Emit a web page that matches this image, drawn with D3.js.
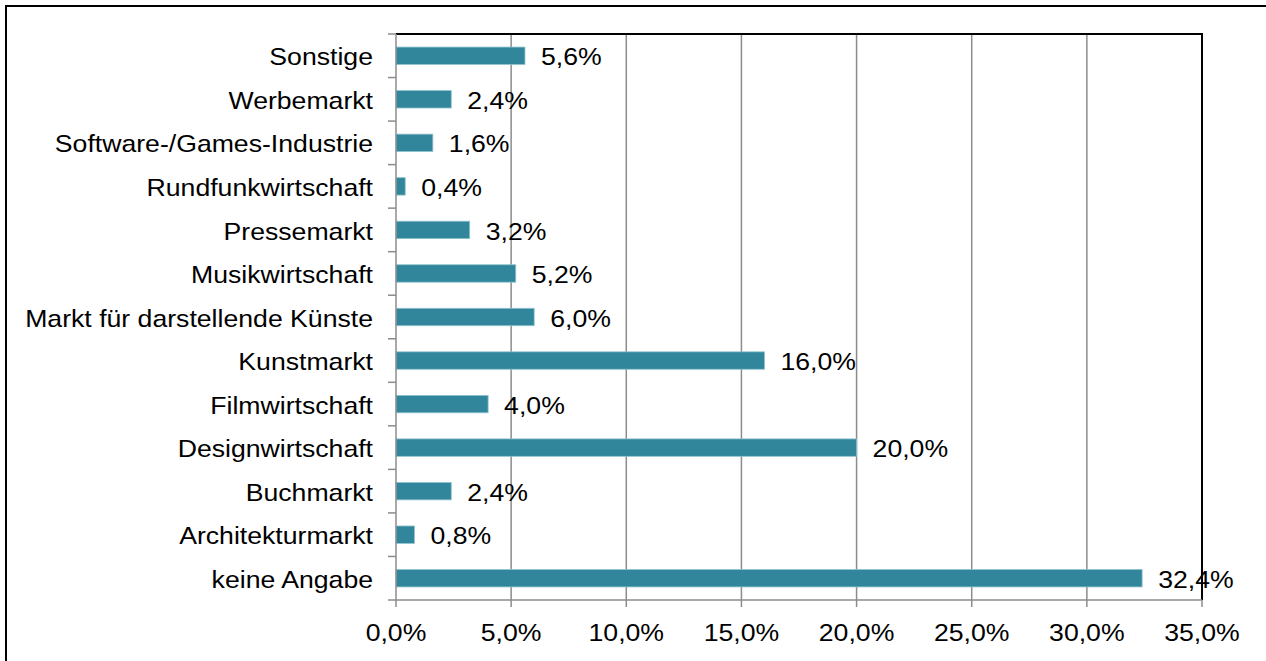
<!DOCTYPE html>
<html>
<head>
<meta charset="utf-8">
<script src="https://cdn.jsdelivr.net/npm/d3@7"></script>
<style>
  body { margin: 0; background: #fff; }
  text { font-family: "Liberation Sans", Arial, sans-serif; }
</style>
</head>
<body>
<svg width="1266" height="661"></svg>
<script>
// categories from top to bottom as shown
const categories = [
  "Sonstige",
  "Werbemarkt",
  "Software-/Games-Industrie",
  "Rundfunkwirtschaft",
  "Pressemarkt",
  "Musikwirtschaft",
  "Markt für darstellende Künste",
  "Kunstmarkt",
  "Filmwirtschaft",
  "Designwirtschaft",
  "Buchmarkt",
  "Architekturmarkt",
  "keine Angabe"
];
const values = [5.6, 2.4, 1.6, 0.4, 3.2, 5.2, 6.0, 16.0, 4.0, 20.0, 2.4, 0.8, 32.4];
const xTicks = [0, 5, 10, 15, 20, 25, 30, 35];

const width = 1266, height = 661;
const margin = { top: 34, right: 64, bottom: 61, left: 396 };
const fmt = v => d3.format(".1f")(v).replace(".", ",") + "%";
const fs = 24, sx = 1.11; // text in the picture is a bit wider than plain Arial

const svg = d3.select("svg");

// outer frame
svg.append("rect")
  .attr("x", 6).attr("y", 6)
  .attr("width", width + 10).attr("height", height + 10)
  .attr("fill", "none").attr("stroke", "#000").attr("stroke-width", 2);

const x = d3.scaleLinear()
  .domain([0, 35])
  .range([margin.left, width - margin.right]);

const y = d3.scaleBand()
  .domain(categories)
  .range([margin.top, height - margin.bottom])
  .paddingInner(0.6)
  .paddingOuter(0.3);

// gridlines
svg.append("g")
  .selectAll("line")
  .data(xTicks.slice(1, -1))
  .join("line")
  .attr("x1", d => x(d)).attr("x2", d => x(d))
  .attr("y1", margin.top).attr("y2", height - margin.bottom)
  .attr("stroke", "#8c8c8c").attr("stroke-width", 1.5);

// plot border top/right
svg.append("path")
  .attr("d", `M${x(0)},${margin.top}H${x(35)}V${height - margin.bottom}`)
  .attr("fill", "none").attr("stroke", "#000").attr("stroke-width", 2);

// bars
svg.append("g")
  .selectAll("rect")
  .data(categories)
  .join("rect")
  .attr("x", x(0))
  .attr("y", d => y(d))
  .attr("width", (d, i) => x(values[i]) - x(0))
  .attr("height", y.bandwidth())
  .attr("fill", "#31869b")
  .attr("stroke", "#8fc3cf")
  .attr("stroke-width", 0.8);

// value labels
svg.append("g")
  .selectAll("text")
  .data(categories)
  .join("text")
  .attr("transform", (d, i) => `translate(${x(values[i]) + 16},${y(d) + y.bandwidth() / 2}) scale(${sx},1)`)
  .attr("dy", "0.4em")
  .attr("font-size", fs)
  .attr("fill", "#000")
  .text((d, i) => fmt(values[i]));

// left axis
const ax = svg.append("g").attr("stroke", "#8c8c8c").attr("stroke-width", 1.5);
const rowH = (height - margin.top - margin.bottom) / categories.length;
ax.append("line")
  .attr("x1", x(0)).attr("x2", x(0))
  .attr("y1", margin.top).attr("y2", height - margin.bottom);
ax.selectAll(".ytick")
  .data(d3.range(categories.length + 1))
  .join("line")
  .attr("class", "ytick")
  .attr("x1", x(0) - 8).attr("x2", x(0))
  .attr("y1", i => margin.top + i * rowH)
  .attr("y2", i => margin.top + i * rowH);

// bottom axis
ax.append("line")
  .attr("x1", x(0)).attr("x2", x(35))
  .attr("y1", height - margin.bottom).attr("y2", height - margin.bottom);
ax.selectAll(".xtick")
  .data(xTicks)
  .join("line")
  .attr("class", "xtick")
  .attr("x1", d => x(d)).attr("x2", d => x(d))
  .attr("y1", height - margin.bottom).attr("y2", height - margin.bottom + 7);

// category labels
svg.append("g")
  .selectAll("text")
  .data(categories)
  .join("text")
  .attr("transform", d => `translate(${x(0) - 23},${y(d) + y.bandwidth() / 2}) scale(${sx},1)`)
  .attr("dy", "0.4em")
  .attr("text-anchor", "end")
  .attr("font-size", fs)
  .text(d => d);

// x tick labels
svg.append("g")
  .selectAll("text")
  .data(xTicks)
  .join("text")
  .attr("transform", d => `translate(${x(d)},641) scale(${sx},1)`)
  .attr("text-anchor", "middle")
  .attr("font-size", fs)
  .text(d => fmt(d));
</script>
</body>
</html>
